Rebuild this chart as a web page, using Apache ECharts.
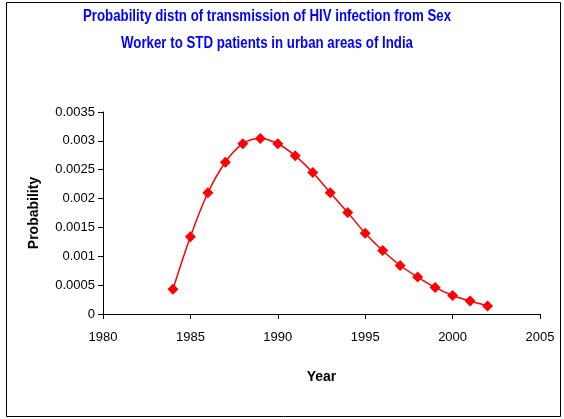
<!DOCTYPE html>
<html>
<head>
<meta charset="utf-8">
<script src="https://cdn.jsdelivr.net/npm/echarts@6/dist/echarts.min.js"></script>
<style>
  html, body { margin: 0; padding: 0; background: #fff; }
  #chart { width: 564px; height: 419px; }
</style>
</head>
<body>
<div id="chart"></div>
<script>
  // values
  const years = [1984, 1985, 1986, 1987, 1988, 1989, 1990, 1991, 1992, 1993,
                 1994, 1995, 1996, 1997, 1998, 1999, 2000, 2001, 2002]
  const probability = [0.00043, 0.00134, 0.0021, 0.00263, 0.00295, 0.00304, 0.00295,
                       0.00274, 0.00245, 0.0021, 0.00176, 0.0014, 0.0011, 0.00084,
                       0.00064, 0.00046, 0.00032, 0.000225, 0.00014]
  const titleLines = ['Probability distn of transmission of HIV infection from Sex',
                      'Worker to STD patients in urban areas of India']

  const points = years.map((y, i) => [y, probability[i]])
  const font = 'Arial, "Liberation Sans", sans-serif'

  // title drawn as squeezed text to mimic the narrow bold face
  const titleGraphics = titleLines.map((line, i) => ({
    type: 'text',
    x: 267,
    y: 17 + i * 27,
    scaleX: 0.83,
    silent: true,
    style: {
      text: line,
      align: 'center',
      verticalAlign: 'middle',
      fill: '#0000ff',
      font: 'bold 16px "Liberation Sans", Arial, sans-serif'
    }
  }))

  const myChart = echarts.init(document.getElementById('chart'))
  myChart.setOption({
    animation: false,
    graphic: [{
      type: 'rect',
      shape: { x: 6.5, y: 2.5, width: 554, height: 414 },
      style: { fill: 'none', stroke: '#000', lineWidth: 1 },
      silent: true
    }].concat(titleGraphics),
    grid: { left: 103, right: 24, top: 112, bottom: 105 },
    xAxis: {
      type: 'value',
      min: 1980,
      max: 2005,
      interval: 5,
      name: 'Year',
      nameLocation: 'middle',
      nameGap: 56,
      nameTextStyle: { color: '#000', fontFamily: font, fontWeight: 'bold', fontSize: 14 },
      axisLine: { show: true, onZero: false, lineStyle: { color: '#000', width: 1 } },
      axisTick: { show: true, length: 5, lineStyle: { color: '#000' } },
      axisLabel: { color: '#000', fontFamily: font, fontSize: 13, margin: 17, formatter: v => String(v) },
      splitLine: { show: false }
    },
    yAxis: {
      type: 'value',
      min: 0,
      max: 0.0035,
      interval: 0.0005,
      name: 'Probability',
      nameLocation: 'middle',
      nameRotate: 90,
      nameGap: 62,
      nameTextStyle: { color: '#000', fontFamily: font, fontWeight: 'bold', fontSize: 14 },
      axisLine: { show: true, lineStyle: { color: '#000', width: 1 } },
      axisTick: { show: true, length: 5, lineStyle: { color: '#000' } },
      axisLabel: { color: '#000', fontFamily: font, fontSize: 13, margin: 8 },
      splitLine: { show: false }
    },
    series: [{
      type: 'line',
      data: points,
      smooth: 0.3,
      symbol: 'diamond',
      symbolSize: 11,
      itemStyle: { color: '#ff0000' },
      lineStyle: { color: '#ff0000', width: 1.5 }
    }]
  })
</script>
</body>
</html>
